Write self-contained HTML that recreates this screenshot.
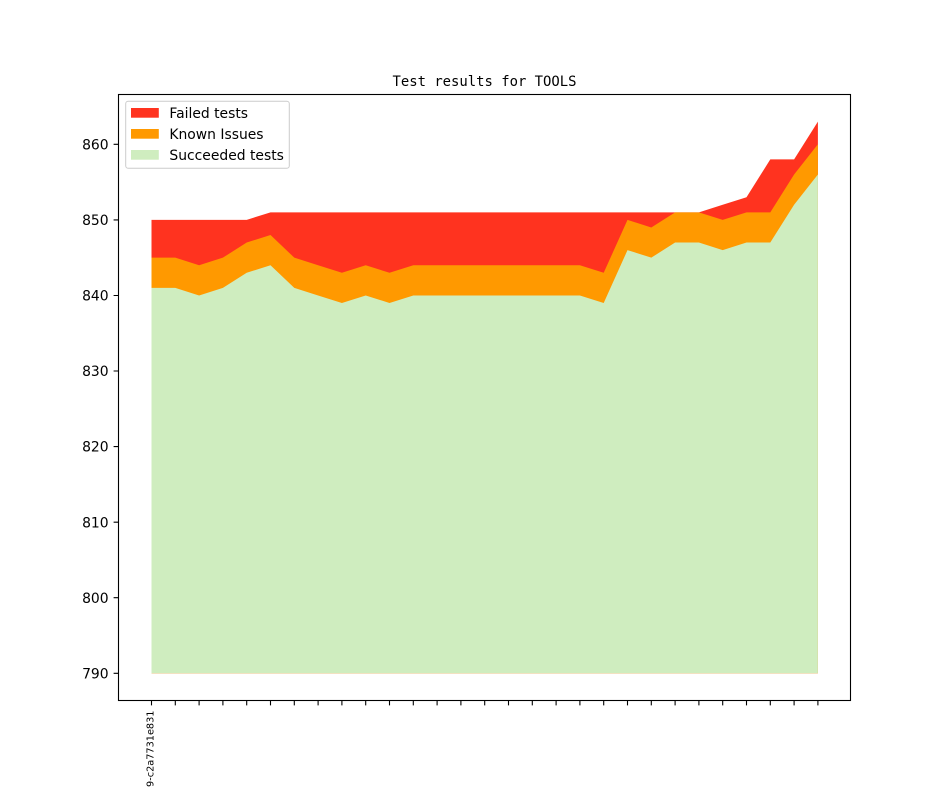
<!DOCTYPE html>
<html><head><meta charset="utf-8"><style>
html,body{margin:0;padding:0;background:#fff;}
svg{display:block;}
</style></head><body>
<svg width="944" height="787" viewBox="0 0 944 787" xmlns="http://www.w3.org/2000/svg">
<rect x="0" y="0" width="944" height="787" fill="#ffffff"/>
<text x="484.5" y="86" font-family="'DejaVu Sans Mono', 'Liberation Mono', monospace" font-size="13.9" text-anchor="middle" fill="#000">Test results for TOOLS</text>
<polygon fill="#ff331f" points="151.5,219.88 246.7,219.88 270.5,212.32 698.9,212.32 722.7,204.77 746.5,197.21 770.3,159.42 794.1,159.42 817.9,121.64 817.9,673.3 151.5,673.3"/>
<polygon fill="#ff9900" points="151.5,257.66 175.3,257.66 199.1,265.22 222.9,257.66 246.7,242.55 270.5,234.99 294.3,257.66 318.1,265.22 341.9,272.78 365.7,265.22 389.5,272.78 413.3,265.22 437.1,265.22 460.9,265.22 484.7,265.22 508.5,265.22 532.3,265.22 556.1,265.22 579.9,265.22 603.7,272.78 627.5,219.88 651.3,227.44 675.1,212.32 698.9,212.32 722.7,219.88 746.5,212.32 770.3,212.32 794.1,174.54 817.9,144.31 817.9,673.3 151.5,673.3"/>
<polygon fill="#cfedbf" points="151.5,287.89 175.3,287.89 199.1,295.45 222.9,287.89 246.7,272.78 270.5,265.22 294.3,287.89 318.1,295.45 341.9,303.0 365.7,295.45 389.5,303.0 413.3,295.45 437.1,295.45 460.9,295.45 484.7,295.45 508.5,295.45 532.3,295.45 556.1,295.45 579.9,295.45 603.7,303.0 627.5,250.11 651.3,257.66 675.1,242.55 698.9,242.55 722.7,250.11 746.5,242.55 770.3,242.55 794.1,204.77 817.9,174.54 817.9,673.3 151.5,673.3"/>
<rect x="118.5" y="94.5" width="732" height="606" fill="none" stroke="#000" stroke-width="1.1"/>
<g stroke="#000" stroke-width="1.1">
<path d="M151.5 700.5V705.4M175.3 700.5V705.4M199.1 700.5V705.4M222.9 700.5V705.4M246.7 700.5V705.4M270.5 700.5V705.4M294.3 700.5V705.4M318.1 700.5V705.4M341.9 700.5V705.4M365.7 700.5V705.4M389.5 700.5V705.4M413.3 700.5V705.4M437.1 700.5V705.4M460.9 700.5V705.4M484.7 700.5V705.4M508.5 700.5V705.4M532.3 700.5V705.4M556.1 700.5V705.4M579.9 700.5V705.4M603.7 700.5V705.4M627.5 700.5V705.4M651.3 700.5V705.4M675.1 700.5V705.4M698.9 700.5V705.4M722.7 700.5V705.4M746.5 700.5V705.4M770.3 700.5V705.4M794.1 700.5V705.4M817.9 700.5V705.4"/>
<path d="M113.6 673.3H118.5M113.6 597.7H118.5M113.6 522.2H118.5M113.6 446.6H118.5M113.6 371.0H118.5M113.6 295.5H118.5M113.6 219.9H118.5M113.6 144.3H118.5"/>
</g>
<g font-family="'DejaVu Sans', 'Liberation Sans', sans-serif" font-size="13.9" fill="#000" text-anchor="end">
<text x="108.6" y="678.4">790</text>
<text x="108.6" y="602.8">800</text>
<text x="108.6" y="527.3">810</text>
<text x="108.6" y="451.7">820</text>
<text x="108.6" y="376.1">830</text>
<text x="108.6" y="300.6">840</text>
<text x="108.6" y="225.0">850</text>
<text x="108.6" y="149.4">860</text>
</g>
<text transform="translate(153.4,710.5) rotate(-90)" text-anchor="end" font-family="'DejaVu Sans', 'Liberation Sans', sans-serif" font-size="9.72" fill="#000">2019-c2a7731e831</text>
<rect x="125.7" y="101.3" width="163.6" height="67" rx="2.5" ry="2.5" fill="#ffffff" fill-opacity="0.8" stroke="#cccccc" stroke-width="1"/>
<rect x="131" y="108" width="27.8" height="9.7" fill="#ff331f"/>
<rect x="131" y="129" width="27.8" height="9.7" fill="#ff9900"/>
<rect x="131" y="150" width="27.8" height="9.7" fill="#cfedbf"/>
<g font-family="'DejaVu Sans', 'Liberation Sans', sans-serif" font-size="13.9" fill="#000">
<text x="169.4" y="118">Failed tests</text>
<text x="169.4" y="139">Known Issues</text>
<text x="169.4" y="160">Succeeded tests</text>
</g>
</svg>
</body></html>
